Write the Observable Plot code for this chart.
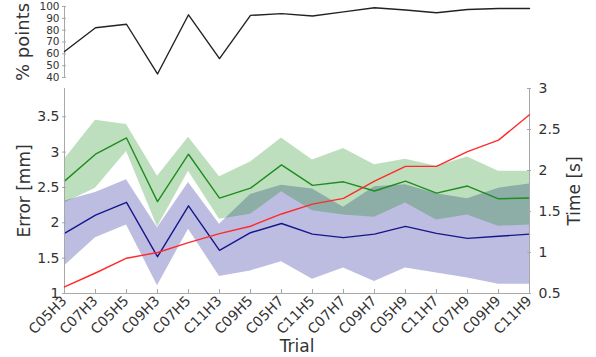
<!DOCTYPE html>
<html><head><meta charset="utf-8">
<script src="https://cdn.jsdelivr.net/npm/d3@7"></script>
<script src="https://cdn.jsdelivr.net/npm/@observablehq/plot@0.6"></script>
<style>
body{margin:0;background:#fff;}
#chart{position:relative;width:596px;height:357px;font-family:"DejaVu Sans",sans-serif;}
#chart svg{position:absolute;left:0;top:0;}
</style></head><body><div id="chart"></div>
<script>
const trials = ["C05H3","C07H3","C05H5","C09H3","C07H5","C11H3","C09H5","C05H7","C11H5","C07H7","C09H7","C05H9","C11H7","C07H9","C09H9","C11H9"];
const pointsPct = [62, 82, 85, 43, 93, 56, 92.5, 94, 92, 95.5, 99, 97, 94.7, 97.5, 98.3, 98.3];
const errGreenMean = [2.59, 2.97, 3.20, 2.30, 2.97, 2.35, 2.49, 2.82, 2.53, 2.58, 2.45, 2.59, 2.42, 2.52, 2.34, 2.35];
const errGreenSd   = [0.31, 0.48, 0.19, 0.36, 0.24, 0.30, 0.37, 0.38, 0.36, 0.47, 0.37, 0.31, 0.38, 0.41, 0.39, 0.38];
const errBlueMean  = [1.85, 2.11, 2.29, 1.52, 2.24, 1.61, 1.86, 1.99, 1.84, 1.79, 1.84, 1.95, 1.85, 1.78, 1.81, 1.84];
const errBlueSd    = [0.46, 0.32, 0.32, 0.41, 0.33, 0.37, 0.54, 0.54, 0.64, 0.43, 0.67, 0.59, 0.56, 0.56, 0.68, 0.71];
const timeS = [0.58, 0.75, 0.93, 1.00, 1.12, 1.23, 1.32, 1.47, 1.59, 1.66, 1.87, 2.05, 2.05, 2.23, 2.37, 2.68];
const pctTicks = [40, 50, 60, 70, 80, 90, 100];
const errTicks = [1, 1.5, 2, 2.5, 3, 3.5];
const timeTicks = [0.5, 1, 1.5, 2, 2.5, 3];

const rows = trials.map((t, i) => ({
  trial: t,
  pct: pointsPct[i],
  g: errGreenMean[i], gLo: errGreenMean[i] - errGreenSd[i], gHi: errGreenMean[i] + errGreenSd[i],
  b: errBlueMean[i], bLo: errBlueMean[i] - errBlueSd[i], bHi: errBlueMean[i] + errBlueSd[i],
  time: timeS[i]
}));

const W = 596, H = 357, mL = 62, mR = 65, mT = 88, mB = 64;
const plotW = W - mL - mR, plotH = H - mT - mB;
const axisGray = "#a8a8a8";
const textColor = "#333";
const fmt = d => String(d);
const baseStyle = {fontFamily: "DejaVu Sans, sans-serif", color: textColor, background: "transparent", overflow: "visible"};

const bottom = Plot.plot({
  width: W, height: H, marginLeft: mL, marginRight: mR, marginTop: mT, marginBottom: mB,
  style: baseStyle,
  x: {type: "point", domain: trials, padding: 0},
  y: {domain: [1, 3.9]},
  marks: [
    Plot.areaY(rows, {x: "trial", y1: "bLo", y2: "bHi", fill: "#00008b", fillOpacity: 0.26}),
    Plot.areaY(rows, {x: "trial", y1: "gLo", y2: "gHi", fill: "#008000", fillOpacity: 0.255}),
    Plot.line(rows, {x: "trial", y: "g", stroke: "#1e8c1e", strokeWidth: 1.4}),
    Plot.line(rows, {x: "trial", y: "b", stroke: "#16168c", strokeWidth: 1.4}),
    Plot.ruleX([trials[0]], {stroke: axisGray}),
    Plot.ruleY([1], {stroke: axisGray}),
    Plot.tickX(trials, {x: d => d, stroke: axisGray, insetTop: plotH - 4}),
    Plot.tickY(errTicks, {y: d => d, stroke: axisGray, insetRight: plotW - 4}),
    Plot.axisY({ticks: errTicks, tickFormat: fmt, tickSize: 0, tickPadding: 3, label: null, fontSize: 14}),
    Plot.axisX({tickSize: 0, tickRotate: -45, tickPadding: 5, label: null, fontSize: 14}),
    Plot.text(["Error [mm]"], {text: d => d, frameAnchor: "left", textAnchor: "middle", lineAnchor: "middle", rotate: -90, dx: -38, fontSize: 17}),
    Plot.text(["Trial"], {text: d => d, frameAnchor: "bottom", textAnchor: "middle", lineAnchor: "middle", dy: 53, fontSize: 17})
  ]
});

const topPlot = Plot.plot({
  width: W, height: 85, marginLeft: mL, marginRight: mR, marginTop: 6, marginBottom: 8,
  style: baseStyle,
  x: {type: "point", domain: trials, padding: 0, axis: null},
  y: {domain: [40, 100]},
  marks: [
    Plot.ruleX([trials[0]], {stroke: axisGray}),
    Plot.tickY(pctTicks, {y: d => d, stroke: axisGray, insetRight: plotW - 4}),
    Plot.axisY({ticks: pctTicks, tickFormat: fmt, tickSize: 0, tickPadding: 3, label: null, fontSize: 10.5}),
    Plot.line(rows, {x: "trial", y: "pct", stroke: "#222", strokeWidth: 1.4}),
    Plot.text(["% points"], {text: d => d, frameAnchor: "left", textAnchor: "middle", lineAnchor: "middle", rotate: -90, dx: -39, fontSize: 18})
  ]
});

const timePlot = Plot.plot({
  width: W, height: H, marginLeft: mL, marginRight: mR, marginTop: mT, marginBottom: mB,
  style: baseStyle,
  x: {type: "point", domain: trials, padding: 0, axis: null},
  y: {domain: [0.5, 3], axis: null},
  marks: [
    Plot.ruleX([trials[trials.length - 1]], {stroke: axisGray}),
    Plot.tickY(timeTicks, {y: d => d, stroke: axisGray, insetLeft: plotW - 4}),
    Plot.axisY({anchor: "right", ticks: timeTicks, tickFormat: fmt, tickSize: 0, tickPadding: 7, label: null, fontSize: 14}),
    Plot.line(rows, {x: "trial", y: "time", stroke: "#ff2a2a", strokeWidth: 1.4}),
    Plot.text(["Time [s]"], {text: d => d, frameAnchor: "right", textAnchor: "middle", lineAnchor: "middle", rotate: -90, dx: 43, fontSize: 17})
  ]
});

const chart = document.getElementById("chart");
chart.append(bottom, topPlot, timePlot);
</script>
</body></html>
